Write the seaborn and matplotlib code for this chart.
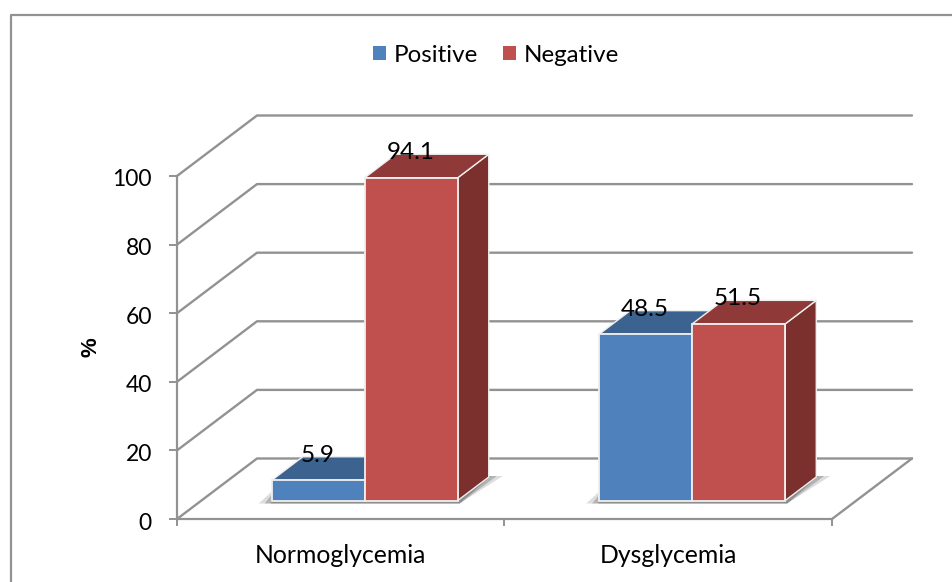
import matplotlib
matplotlib.use("Agg")
import numpy as np
import pandas as pd
import seaborn as sns
import matplotlib.pyplot as plt
from matplotlib.lines import Line2D
from matplotlib.patches import Polygon
from matplotlib.transforms import Affine2D, IdentityTransform

grupos = ["Normoglycemia", "Dysglycemia"]
series = ["Positive", "Negative"]
positive = [5.9, 48.5]
negative = [94.1, 51.5]
y_ticks = [0, 20, 40, 60, 80, 100]

cor_frente = {"Positive": "#4f81bd", "Negative": "#c0504d"}
cor_topo = {"Positive": "#3c6390", "Negative": "#8f3a38"}
cor_lado = {"Positive": "#2f4f75", "Negative": "#7b302e"}
cinza = "#929292"
borda = "#f0f0f0"

W, H = 953, 582
# deslocamentos em pixels do efeito 3D
parede = (80, 60.5)
barra = (24, 18.5)
prof = (31, 23.5)

sns.set_theme(style="white")
plt.rcParams["font.family"] = ["Lato", "DejaVu Sans"]

tabela = pd.DataFrame({
    "grupo": grupos * 2,
    "serie": [series[0]] * 2 + [series[1]] * 2,
    "valor": positive + negative,
})

fig = plt.figure(figsize=(W / 100, H / 100), dpi=100, facecolor="white")
ax = fig.add_axes([177 / W, (H - 519) / H, 655 / W, 343 / H])
sns.barplot(data=tabela, x="grupo", y="valor", hue="serie", order=grupos, hue_order=series,
            palette=cor_frente, saturation=1, width=0.568, gap=0, edgecolor=borda, linewidth=1.3,
            errorbar=None, ax=ax)
ax.set_xlim(-0.5, 1.5)
ax.set_ylim(0, 100)
ax.patch.set_alpha(0)

# eixos
for lado in ["top", "right"]:
    ax.spines[lado].set_visible(False)
for lado in ["left", "bottom"]:
    ax.spines[lado].set_color(cinza)
    ax.spines[lado].set_linewidth(1.6)
ax.set_yticks(y_ticks)
ax.set_xticks([-0.5, 0.5, 1.5])
ax.set_xticklabels([])
ax.set_xticks([0.0, 1.0], labels=grupos, minor=True)
ax.tick_params(axis="x", which="major", length=5, width=1.4, color=cinza, bottom=True)
ax.tick_params(axis="x", which="minor", length=0, pad=18, labelsize=17.8, labelcolor="black")
ax.tick_params(axis="y", length=6, width=1.4, color=cinza, left=True, pad=12, labelsize=16.5, labelcolor="black")
for rotulo in ax.get_yticklabels():
    rotulo.set_transform(rotulo.get_transform() + Affine2D().translate(0, -2))
ax.set_xlabel("")
ax.set_ylabel("%", fontsize=16, fontweight="bold", color="black", family="Liberation Sans")
ax.yaxis.set_label_coords(-0.1155, 0.5)

# grade das paredes do fundo
identidade = IdentityTransform()
for v in y_ticks:
    x0, y0 = ax.transData.transform((-0.5, v))
    x1, y1 = ax.transData.transform((1.5, v))
    ax.add_line(Line2D([x0, x0 + parede[0], x1 + parede[0]], [y0, y0 + parede[1], y1 + parede[1]],
                       transform=identidade, color=cinza, lw=1.7, clip_on=False, zorder=1))
x1, y1 = ax.transData.transform((1.5, 0))
ax.add_line(Line2D([x1, x1 + parede[0]], [y1, y1 + parede[1]], transform=identidade,
                   color=cinza, lw=1.7, clip_on=False, zorder=1))

# barras deslocadas + faces de profundidade
desloc = ax.transData + Affine2D().translate(*barra)
for i, (nome, cont) in enumerate(zip(series, ax.containers)):
    for ret in cont:
        ret.set_transform(desloc)
        ret.set_clip_on(False)
        ret.set_zorder(4)
        xa, ya = desloc.transform((ret.get_x(), 0))
        xb, yb = desloc.transform((ret.get_x() + ret.get_width(), ret.get_height()))
        dx, dy = prof
        topo = [(xa, yb), (xb, yb), (xb + dx, yb + dy), (xa + dx, yb + dy)]
        lado = [(xb, ya), (xb + dx, ya + dy), (xb + dx, yb + dy), (xb, yb)]
        ax.add_patch(Polygon(lado, closed=True, transform=identidade, facecolor=cor_lado[nome],
                             edgecolor=borda, linewidth=1.0, clip_on=False, zorder=2 + i * 0.5))
        ax.add_patch(Polygon(topo, closed=True, transform=identidade, facecolor=cor_topo[nome],
                             edgecolor=borda, linewidth=1.0, clip_on=False, zorder=2.2 + i * 0.5))
        ax.annotate(f"{ret.get_height():.1f}", (ret.get_x() + ret.get_width() / 2, ret.get_height()),
                    xytext=(barra[0] - 1, barra[1] + 25), textcoords="offset pixels", ha="center", va="center",
                    fontsize=17.5, color="black", zorder=6, annotation_clip=False)

# sombra na base de cada grupo
for g in range(len(grupos)):
    esq = ax.containers[0][g]
    dir_ = ax.containers[1][g]
    xa, ya = desloc.transform((esq.get_x(), 0))
    xb, _ = desloc.transform((dir_.get_x() + dir_.get_width(), 0))
    for k, alfa in zip([0, 3, 6], [0.2, 0.3, 0.4]):
        sombra = [(xa - 13 + k * 2, ya - 3), (xb + 2, ya - 3), (xb + 45 - k * 2, ya + prof[1] + 1),
                  (xb + 30, ya + prof[1] + 1), (xb, ya), (xa, ya), (xa, ya + 9 - k)]
        ax.add_patch(Polygon(sombra, closed=True, transform=identidade, facecolor="#555555",
                             edgecolor="none", alpha=alfa, clip_on=False, zorder=1.5))

# legenda
alcas, rotulos = ax.get_legend_handles_labels()
ax.legend(alcas, rotulos, loc="center", bbox_to_anchor=(496 / W, (H - 55) / H), bbox_transform=fig.transFigure,
          ncol=2, frameon=False, fontsize=17.4, handlelength=0.55, handleheight=0.55, handletextpad=0.33,
          columnspacing=1.0, labelcolor="black")
for alca in ax.get_legend().get_patches():
    alca.set_edgecolor("none")

# moldura
fig.add_artist(Line2D([11 / W, 11 / W, 1], [0, (H - 15) / H, (H - 15) / H], color=cinza, lw=1.6))

fig.savefig("out.png", dpi=100)
